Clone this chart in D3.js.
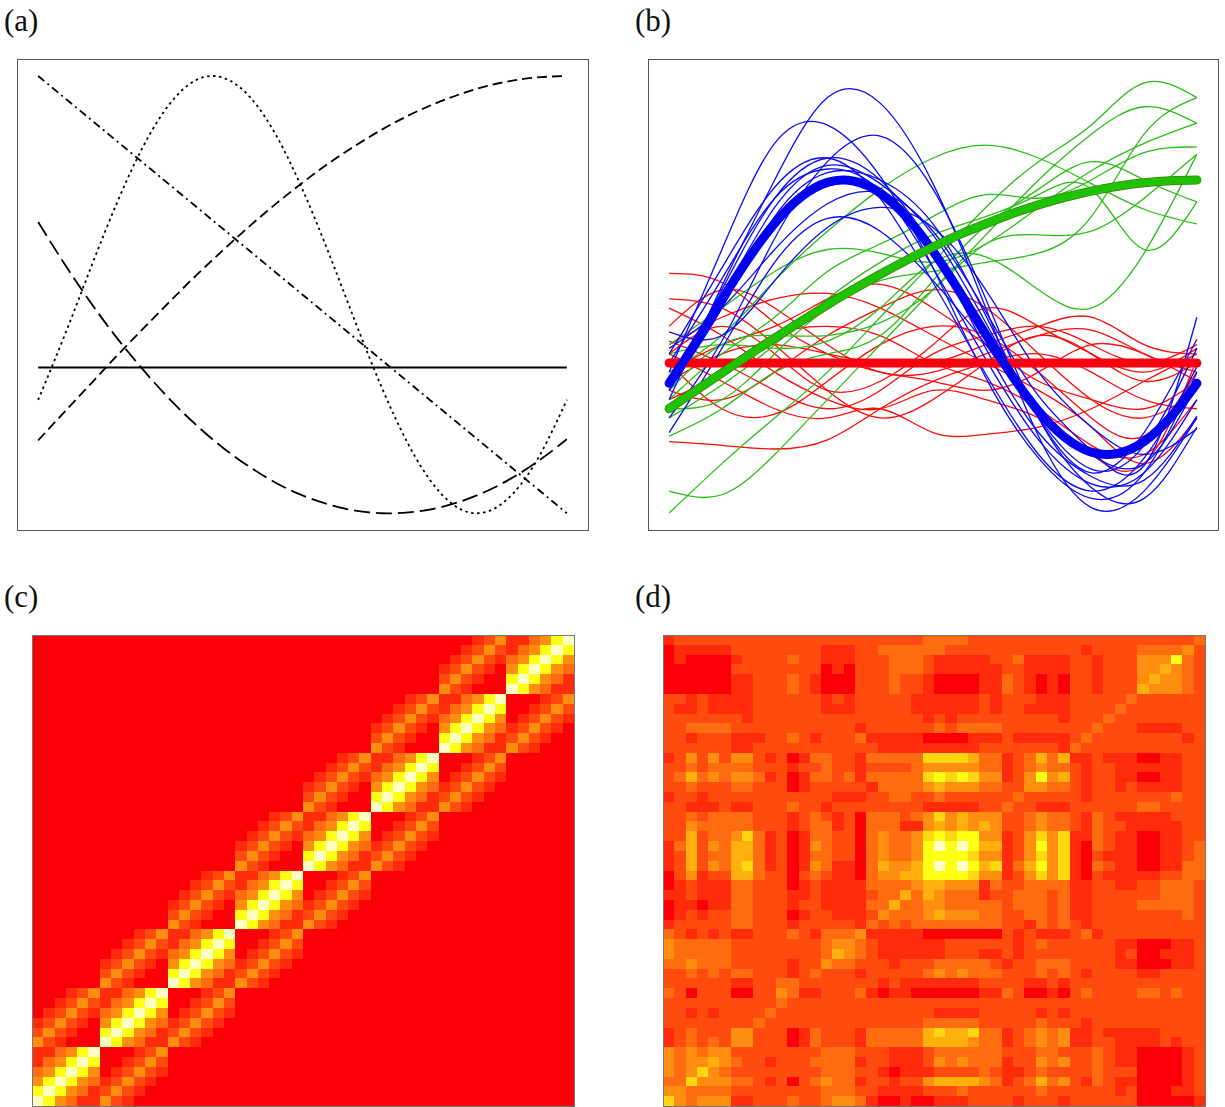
<!DOCTYPE html>
<html>
<head>
<meta charset="utf-8">
<script src="https://d3js.org/d3.v7.min.js"></script>
<style>
	body { margin: 0; background: #fff; }
	svg { display: block; }
	.panel-label { font-family: "Liberation Serif", "DejaVu Serif", serif; font-size: 31px; fill: #111; }
	.frame { fill: none; stroke: #555; stroke-width: 1px; }
	.heat-frame { fill: none; stroke: #777; stroke-width: 1px; }
</style>
</head>
<body>
<svg id="fig" width="1225" height="1107"></svg>
<script>

// ---- data ----------------------------------------------------------------

// sample positions along the input axis
const tEnds = [0, 1];
const t11 = [0, 0.1, 0.2, 0.3, 0.4, 0.5, 0.6, 0.7, 0.8, 0.9, 1];
const t21 = [0, 0.05, 0.1, 0.15, 0.2, 0.25, 0.3, 0.35, 0.4, 0.45, 0.5,
	0.55, 0.6, 0.65, 0.7, 0.75, 0.8, 0.85, 0.9, 0.95, 1];

// panel (a): mean functions
const meanConst = [0, 0];
const meanLinear = [1, -0.5];
const meanSine = [-0.111, 0.110, 0.344, 0.569, 0.763, 0.907, 0.987, 0.994, 0.929, 0.797, 0.611,
	0.391, 0.156, -0.069, -0.263, -0.407, -0.487, -0.494, -0.429, -0.297, -0.111];
const meanRise = [-0.250, -0.152, -0.055, 0.042, 0.136, 0.228, 0.318, 0.403, 0.485, 0.562, 0.634,
	0.701, 0.761, 0.816, 0.864, 0.905, 0.939, 0.966, 0.985, 0.996, 1.000];
const meanBowl = [0.499, 0.355, 0.221, 0.099, -0.011, -0.111, -0.199, -0.276, -0.341, -0.396, -0.439,
	-0.470, -0.491, -0.500, -0.497, -0.484, -0.459, -0.423, -0.375, -0.316, -0.246];

// panel (b): thin sample paths, read at t11
const blueSamples = [
	[-0.20, 0.42, 1.00, 1.45, 1.42, 0.98, 0.30, -0.40, -0.79, -0.70, -0.30],
	[-0.05, 0.62, 1.20, 1.30, 1.02, 0.52, -0.08, -0.52, -0.74, -0.60, -0.05],
	[-0.30, 0.12, 0.68, 1.10, 1.24, 0.95, 0.35, -0.30, -0.68, -0.74, -0.35],
	[-0.15, 0.40, 0.90, 1.12, 1.00, 0.62, 0.08, -0.38, -0.62, -0.64, -0.29],
	[-0.10, 0.36, 0.85, 1.08, 0.98, 0.70, 0.22, -0.25, -0.50, -0.55, -0.12],
	[0.08, 0.30, 0.62, 0.87, 0.93, 0.72, 0.28, -0.18, -0.48, -0.56, 0.25],
	[0.17, 0.15, 0.45, 0.74, 0.85, 0.74, 0.40, -0.05, -0.35, -0.50, -0.36],
	[-0.38, 0.08, 0.55, 0.79, 0.72, 0.45, 0.10, -0.30, -0.58, -0.45, 0.08],
	[0.00, 0.46, 0.90, 1.06, 0.94, 0.52, 0.02, -0.42, -0.66, -0.60, -0.20],
	[-0.15, 0.30, 0.80, 1.04, 1.00, 0.76, 0.26, -0.30, -0.60, -0.38, 0.13],
	[0.05, 0.52, 0.96, 1.12, 0.90, 0.44, -0.06, -0.50, -0.70, -0.52, -0.02]
];
const greenSamples = [
	[-0.82, -0.55, -0.30, -0.05, 0.25, 0.55, 0.85, 1.10, 1.30, 1.53, 1.45],
	[-0.70, -0.72, -0.50, -0.20, 0.10, 0.40, 0.70, 1.00, 1.25, 1.40, 1.31],
	[-0.05, 0.15, 0.45, 0.72, 0.95, 1.12, 1.19, 1.12, 0.98, 0.84, 0.76],
	[-0.30, -0.12, 0.10, 0.35, 0.55, 0.70, 0.80, 0.92, 0.95, 0.62, 0.88],
	[0.05, 0.10, 0.08, 0.12, 0.30, 0.55, 0.58, 0.40, 0.30, 0.60, 1.14],
	[-0.20, 0.05, 0.25, 0.50, 0.65, 0.80, 0.92, 0.90, 1.00, 1.15, 1.18],
	[0.10, 0.30, 0.50, 0.62, 0.60, 0.55, 0.65, 0.85, 1.05, 1.20, 1.31],
	[-0.40, -0.25, -0.05, 0.05, 0.15, 0.45, 0.75, 0.95, 1.10, 1.00, 0.88],
	[-0.15, 0.10, 0.15, 0.15, 0.22, 0.40, 0.65, 0.70, 0.72, 0.90, 1.14],
	[-0.25, -0.20, 0.05, 0.30, 0.45, 0.50, 0.55, 0.60, 0.80, 1.25, 1.45]
];
const redSamples = [
	[0.49, 0.44, 0.22, 0.05, -0.05, -0.10, -0.15, -0.05, 0.10, 0.05, -0.10],
	[-0.43, -0.45, -0.47, -0.42, -0.25, -0.10, 0.00, 0.05, -0.05, -0.20, -0.25],
	[0.35, 0.30, 0.10, -0.15, -0.30, -0.20, 0.00, 0.15, 0.05, -0.10, 0.00],
	[0.20, 0.40, 0.30, 0.10, -0.05, -0.05, 0.05, 0.15, 0.18, 0.05, -0.05],
	[0.10, 0.25, 0.35, 0.38, 0.30, 0.15, 0.00, -0.15, -0.35, -0.55, -0.30],
	[-0.15, -0.20, -0.05, 0.15, 0.30, 0.40, 0.30, 0.05, -0.20, -0.30, -0.15],
	[0.05, -0.10, -0.25, -0.30, -0.25, -0.38, -0.39, -0.35, -0.25, -0.10, 0.05],
	[-0.05, 0.10, 0.20, 0.35, 0.43, 0.30, 0.10, -0.10, -0.20, -0.25, -0.10],
	[0.12, 0.00, -0.15, -0.25, -0.15, 0.05, 0.15, 0.20, 0.10, 0.00, 0.10],
	[-0.20, -0.05, 0.15, 0.20, 0.15, 0.00, -0.10, -0.25, -0.45, -0.50, -0.20],
	[0.00, -0.25, -0.28, -0.10, 0.10, 0.20, 0.15, -0.05, -0.30, -0.40, -0.05],
	[0.30, 0.15, -0.05, -0.20, -0.25, -0.15, -0.20, -0.30, -0.50, -0.55, 0.02],
	[-0.10, 0.05, 0.10, 0.05, 0.00, 0.00, 0.10, 0.20, 0.25, 0.10, 0.05],
	[0.05, 0.20, 0.05, -0.15, -0.10, 0.10, 0.30, 0.20, 0.05, -0.05, 0.08]
];

// colour levels of the two matrices, low -> high
const heatLevels = ["R", "D", "E", "F", "O", "A", "G", "Y", "W"];

// panel (c): rows listed top to bottom, cells grouped by six
const matrixC = [
	"RRRRRR RRRRRR RRRRRR RRRRRR RRRRRR RRRRRR RRRDEO DDFOYW",
	"RRRRRR RRRRRR RRRRRR RRRRRR RRRRRR RRRRRR RRDEOE DFOYWY",
	"RRRRRR RRRRRR RRRRRR RRRRRR RRRRRR RRRRRR RDEOED FOYWYO",
	"RRRRRR RRRRRR RRRRRR RRRRRR RRRRRR RRRRRR DEOEDR OYWYOF",
	"RRRRRR RRRRRR RRRRRR RRRRRR RRRRRR RRRRRR EOEDRR YWYOFD",
	"RRRRRR RRRRRR RRRRRR RRRRRR RRRRRR RRRRRR OEDRRR WYOFDD",
	"RRRRRR RRRRRR RRRRRR RRRRRR RRRRRR RRRDEO DDFOYW RRRDEO",
	"RRRRRR RRRRRR RRRRRR RRRRRR RRRRRR RRDEOE DFOYWY RRDEOE",
	"RRRRRR RRRRRR RRRRRR RRRRRR RRRRRR RDEOED FOYWYO RDEOED",
	"RRRRRR RRRRRR RRRRRR RRRRRR RRRRRR DEOEDR OYWYOF DEOEDR",
	"RRRRRR RRRRRR RRRRRR RRRRRR RRRRRR EOEDRR YWYOFD EOEDRR",
	"RRRRRR RRRRRR RRRRRR RRRRRR RRRRRR OEDRRR WYOFDD OEDRRR",
	"RRRRRR RRRRRR RRRRRR RRRRRR RRRDEO DDFOYW RRRDEO RRRRRR",
	"RRRRRR RRRRRR RRRRRR RRRRRR RRDEOE DFOYWY RRDEOE RRRRRR",
	"RRRRRR RRRRRR RRRRRR RRRRRR RDEOED FOYWYO RDEOED RRRRRR",
	"RRRRRR RRRRRR RRRRRR RRRRRR DEOEDR OYWYOF DEOEDR RRRRRR",
	"RRRRRR RRRRRR RRRRRR RRRRRR EOEDRR YWYOFD EOEDRR RRRRRR",
	"RRRRRR RRRRRR RRRRRR RRRRRR OEDRRR WYOFDD OEDRRR RRRRRR",
	"RRRRRR RRRRRR RRRRRR RRRDEO DDFOYW RRRDEO RRRRRR RRRRRR",
	"RRRRRR RRRRRR RRRRRR RRDEOE DFOYWY RRDEOE RRRRRR RRRRRR",
	"RRRRRR RRRRRR RRRRRR RDEOED FOYWYO RDEOED RRRRRR RRRRRR",
	"RRRRRR RRRRRR RRRRRR DEOEDR OYWYOF DEOEDR RRRRRR RRRRRR",
	"RRRRRR RRRRRR RRRRRR EOEDRR YWYOFD EOEDRR RRRRRR RRRRRR",
	"RRRRRR RRRRRR RRRRRR OEDRRR WYOFDD OEDRRR RRRRRR RRRRRR",
	"RRRRRR RRRRRR RRRDEO DDFOYW RRRDEO RRRRRR RRRRRR RRRRRR",
	"RRRRRR RRRRRR RRDEOE DFOYWY RRDEOE RRRRRR RRRRRR RRRRRR",
	"RRRRRR RRRRRR RDEOED FOYWYO RDEOED RRRRRR RRRRRR RRRRRR",
	"RRRRRR RRRRRR DEOEDR OYWYOF DEOEDR RRRRRR RRRRRR RRRRRR",
	"RRRRRR RRRRRR EOEDRR YWYOFD EOEDRR RRRRRR RRRRRR RRRRRR",
	"RRRRRR RRRRRR OEDRRR WYOFDD OEDRRR RRRRRR RRRRRR RRRRRR",
	"RRRRRR RRRDEO DDFOYW RRRDEO RRRRRR RRRRRR RRRRRR RRRRRR",
	"RRRRRR RRDEOE DFOYWY RRDEOE RRRRRR RRRRRR RRRRRR RRRRRR",
	"RRRRRR RDEOED FOYWYO RDEOED RRRRRR RRRRRR RRRRRR RRRRRR",
	"RRRRRR DEOEDR OYWYOF DEOEDR RRRRRR RRRRRR RRRRRR RRRRRR",
	"RRRRRR EOEDRR YWYOFD EOEDRR RRRRRR RRRRRR RRRRRR RRRRRR",
	"RRRRRR OEDRRR WYOFDD OEDRRR RRRRRR RRRRRR RRRRRR RRRRRR",
	"RRRDEO DDFOYW RRRDEO RRRRRR RRRRRR RRRRRR RRRRRR RRRRRR",
	"RRDEOE DFOYWY RRDEOE RRRRRR RRRRRR RRRRRR RRRRRR RRRRRR",
	"RDEOED FOYWYO RDEOED RRRRRR RRRRRR RRRRRR RRRRRR RRRRRR",
	"DEOEDR OYWYOF DEOEDR RRRRRR RRRRRR RRRRRR RRRRRR RRRRRR",
	"EOEDRR YWYOFD EOEDRR RRRRRR RRRRRR RRRRRR RRRRRR RRRRRR",
	"OEDRRR WYOFDD OEDRRR RRRRRR RRRRRR RRRRRR RRRRRR RRRRRR",
	"DDFOYW RRRDEO RRRRRR RRRRRR RRRRRR RRRRRR RRRRRR RRRRRR",
	"DFOYWY RRDEOE RRRRRR RRRRRR RRRRRR RRRRRR RRRRRR RRRRRR",
	"FOYWYO RDEOED RRRRRR RRRRRR RRRRRR RRRRRR RRRRRR RRRRRR",
	"OYWYOF DEOEDR RRRRRR RRRRRR RRRRRR RRRRRR RRRRRR RRRRRR",
	"YWYOFD EOEDRR RRRRRR RRRRRR RRRRRR RRRRRR RRRRRR RRRRRR",
	"WYOFDD OEDRRR RRRRRR RRRRRR RRRRRR RRRRRR RRRRRR RRRRRR"
];

// panel (d): rows listed top to bottom
const matrixD = [
	"DEEEEE EEEEEE EEEEEE EEEEEF FFFEEE EEEEEE EEEEEE EEEEEF",
	"RDDDDD EEEEEE EEDDDE EFFFFF FEEEEE EEEEEE EDEEEE FFFFOE",
	"RDRRRR DEEEEF EEDDDE EEFFFE DDDDDE EFDDDD EEDEEE OOOYFE",
	"RRRRRR EEEEEE EERDRE EEFFFE DDDDDD EEDDDD EEDEEE OOAOFE",
	"RRRRRR DDEEEF EDRRRE EEFEED RRRRDD FEDRDR EEDEEE OAOOFE",
	"RRRRRR DDEEEF EDRRRE EEFEED RRRRDD FEDRDR EEDEEE AOOOFE",
	"EEDEDD DDEEEE EEDEDE EEEEDD DDDDED EEEDDD EEEEEF EEEEEE",
	"EDDEDD DDEEEE EEDDDE EEEEDD DDDDED EEDDDD EEEEFE EEEEEE",
	"EEEEEE EDEEEE EEEEEE EEEEED EDEEEE EEEEED EEEFEE EEEEEE",
	"EEFFFF EEEEEE EEEEED EEEEEE FEFFFF EEEEEE EEFEEE DDDDEE",
	"EEDEEE DDDEEF EDEEEF DDDDDR RRRDDD EDDDDD EFEEEE EEEEDE",
	"EEEEEE DDEEEE EEEEEE EDDDDD DDDDEE EEEEED FEEEEE EEEEEE",
	"DEOEOE OOEDER DFFEED FFFFFG GGGAFF DEFAFA DDEDDD RRDDEE",
	"EEFEFF FFEEED EEFEED EEEEFO OOOOFF DEFOFF EDEEDD DDDDEE",
	"EFAFOF OOFDER DFFEFD FFFFFG YGYGOO DEOYOA EDEEDD RRDDEE",
	"EEFEEE FFEEER DEEEEE DFFFFO AOOOFF EEOOFF EDEEDE DDDDEE",
	"DEEDEE EEEEEE EEEDDD EEFFEE FEEEEE EFEEEE EDEEEE EEEFEE",
	"EEDDDE DDEEEF EEDEEE EEEEED DDDDEE FEEDDD EEEEEE FFEEEE",
	"EEFEFF FFEEED EFEDER FFFEFO GOAOOO EEFOFF EDFEDD DDDEEE",
	"EEOFFF FFEEED EFFDER FFFDDO AOAOAO EEFOFF EDFEED DDDDEE",
	"EEAEFF OGFDER DFFEER FOFFOG YGYYOO DEOGOG DDFEDD RRDDEE",
	"DFAEOF AAFDER DOFEER FOFFOY WYWYAA DEOYOG DRFEDD RRDDEF",
	"DEAEFF AAFDER DFFEER FOFFOY YYYGOO DEOGOG DREDDD RRDDEF",
	"DEAEOF AGFDER DOFDDR FAOOAY WYWYAG DFAYOG DRFEDD RRDDFF",
	"REODEE AAFEER EFEDDR FOOAAY YYYGOO DEOGOG DREDDD DDEEFF",
	"RDEDDD FFEEER DEDDDD FFFFOA AOOODF EEFFFF DDEEDD EEFFFE",
	"DDEDDD FFEEED DEDDDD EFFAFA OFFFDE EFFFEF DDEEEE EEFFFE",
	"RDDRDD FFEEED EEDDDD FFAFFO OFFFFF EFFFEF DDEEEE FFFFFE",
	"RDEDEE FFEEER DEEDDD EOFFFO AOOOFF EEFFEF DDEEEE EEEEFE",
	"DEEEEE FFEEED EEEEED FEFEFF FFFFFF EEDFEF EDEEEE EEEEEE",
	"FEDEDE DDEEEF EDFFFO DDDDDR RRRRRR EDEDDD EFDEEE EEEEEE",
	"OFFFFF EEEEEE EEFOOF EDDDDD DEEEEE EDEFEE EEEEDD RRRDDE",
	"OFFFFF EEEEEE EEFAOF EDDDDD DEEEDD EDEEEE EEEEDE RRDDDE",
	"FFOFFF EEEEED EEOFFE EEDEEE FFFFFE DEEFFF EEEEDD RRRDDE",
	"EEFEFE FFEEED EFEEED EEEEEF OFOFFF EEEFEF EDEEEE DDEEEE",
	"EEEEEE DDEEFF EEEEEE EDEDDD DDDDEE EEDDED EEEEEE EEEEEE",
	"FEREEE RREEOF DDEEEF DRDDRR RRRRDD FERRDR EFEEEE FFEFEE",
	"EEEEEE EEEEFE EEEEEE EEEEEE EEEEEE EEEEEE EEEEEE EEEEEE",
	"EEDEDE EEEFEE EEEEEE EEEEEE DDDDEE EEEDED EEEEEE EEEEEE",
	"EEEEEE EEFEEE EEEEEE EEEEEF FFFFEE EEEFEE EDEEEE EEEEEE",
	"DEFEEE OOEEER DFEEED FFFFFA GAAGFF DEFOFO DDEDDD DDEEEE",
	"DEFEFE OOEEER DFEEED FFFFFA AAAOFF DEFOFO DDEEDD DDEDEE",
	"OFOFOO EEEEEE EEFFFE EEDDDE FFFFFF EEEFFE EEFEDD RRRRDE",
	"OFOOAO FEEDEE EFFFFD EEDDDE OFOFFF DEEOFO EEFEDD RRRRDE",
	"OFOGOF EEEEEE EEFFFE EDRDDD EEEEFE DDEFEE EEFEEE RRRRDE",
	"FFGOOO FFEDER EFOFFD EEDEEO AAAAOF DEFAFO EDFEDD RRRRDE",
	"OOFFFF EEEEEE EEFFFE EDDDDE EEFEEE EEEFEE EEEEDE RRRDDE",
	"GOFOOO DDEEEF EEFOOF DRRDRR DDDEEE EDEEED EEEEEE RRRRRD"
];

// ---- layout and styles ---------------------------------------------------

const panelA = {x0: 17, x1: 588, y0: 59, y1: 530};
const panelB = {x0: 648, x1: 1218, y0: 59, y1: 530};
const panelC = {x0: 32, x1: 574, y0: 635, y1: 1106};
const panelD = {x0: 663, x1: 1205, y0: 635, y1: 1106};

const heatColors = ["#fb0006", "#ff2b0b", "#ff4b0e", "#ff6c0f", "#ff8d0f",
	"#ffb00c", "#ffd711", "#ffff14", "#ffffc4"];

const svg = d3.select("#fig");

function drawLabel(text, x, y) {
	svg.append("text")
		.attr("class", "panel-label")
		.attr("x", x)
		.attr("y", y)
		.text(text);
}

function drawFrame(p, cls) {
	svg.append("rect")
		.attr("class", cls)
		.attr("x", p.x0 + 0.5)
		.attr("y", p.y0 + 0.5)
		.attr("width", p.x1 - p.x0)
		.attr("height", p.y1 - p.y0);
}

// smooth line through read-off points, x positions taken from ts
function lineFor(x, y, ts) {
	return d3.line()
		.x((d, i) => x(ts[i]))
		.y(d => y(d))
		.curve(d3.curveNatural);
}

// ---- (a) mean functions ---------------------------------------------------

const xA = d3.scaleLinear().domain([-0.04, 1.04]).range([panelA.x0, panelA.x1]);
const yA = d3.scaleLinear().domain([-0.5575, 1.0583]).range([panelA.y1, panelA.y0]);

const aSeries = [
	{values: meanConst, ts: tEnds, dash: null},
	{values: meanLinear, ts: tEnds, dash: "8,4,2,4"},
	{values: meanSine, ts: t21, dash: "2.5,3.5"},
	{values: meanRise, ts: t21, dash: "10,5"},
	{values: meanBowl, ts: t21, dash: "16,6"}
];

const gA = svg.append("g");
aSeries.forEach(s => {
	gA.append("path")
		.datum(s.values)
		.attr("d", lineFor(xA, yA, s.ts))
		.attr("fill", "none")
		.attr("stroke", "#000")
		.attr("stroke-width", 1.8)
		.attr("stroke-dasharray", s.dash);
});
drawFrame(panelA, "frame");

// ---- (b) samples around the means ------------------------------------------

const xB = d3.scaleLinear().domain([-0.04, 1.04]).range([panelB.x0, panelB.x1]);
const yB = d3.scaleLinear().domain([-0.9126, 1.661]).range([panelB.y1, panelB.y0]);

const gB = svg.append("g");
const thinLine = lineFor(xB, yB, t11);

[[redSamples, "#ff0a0a"], [greenSamples, "#2bbd17"], [blueSamples, "#0a0aff"]].forEach(([set, col]) => {
	gB.selectAll(null)
		.data(set)
		.enter()
		.append("path")
		.attr("d", thinLine)
		.attr("fill", "none")
		.attr("stroke", col)
		.attr("stroke-width", 1.3);
});

const thick = [
	{values: meanConst, ts: tEnds, col: "#fa0010", edge: null},
	{values: meanSine, ts: t21, col: "#0000f2", edge: null},
	{values: meanRise, ts: t21, col: "#1ec300", edge: "#3d7d12"}
];
thick.forEach(s => {
	if (s.edge) {
		gB.append("path")
			.datum(s.values)
			.attr("d", lineFor(xB, yB, s.ts))
			.attr("fill", "none")
			.attr("stroke", s.edge)
			.attr("stroke-width", 9)
			.attr("stroke-linecap", "round");
	}
	gB.append("path")
		.datum(s.values)
		.attr("d", lineFor(xB, yB, s.ts))
		.attr("fill", "none")
		.attr("stroke", s.col)
		.attr("stroke-width", s.edge ? 7.6 : 9)
		.attr("stroke-linecap", "round");
});
drawFrame(panelB, "frame");

// ---- (c), (d) matrices ---------------------------------------------------

const heatColor = d3.scaleOrdinal().domain(heatLevels).range(heatColors);

function drawMatrix(rows, p) {
	const cells = [];
	rows.forEach((row, r) => {
		row.replace(/\s/g, "").split("").forEach((v, c) => cells.push({r: r, c: c, v: v}));
	});
	const n = rows.length;
	const x = d3.scaleBand().domain(d3.range(n)).range([p.x0, p.x1]);
	const y = d3.scaleBand().domain(d3.range(n)).range([p.y0, p.y1]);

	svg.append("g")
		.attr("shape-rendering", "crispEdges")
		.selectAll("rect")
		.data(cells)
		.join("rect")
		.attr("x", d => x(d.c))
		.attr("y", d => y(d.r))
		.attr("width", x.bandwidth() + 0.5)
		.attr("height", y.bandwidth() + 0.5)
		.attr("fill", d => heatColor(d.v));

	drawFrame(p, "heat-frame");
}

drawMatrix(matrixC, panelC);
drawMatrix(matrixD, panelD);

drawLabel("(a)", 4, 31);
drawLabel("(b)", 635, 31);
drawLabel("(c)", 4, 607);
drawLabel("(d)", 635, 607);

</script>
</body>
</html>
